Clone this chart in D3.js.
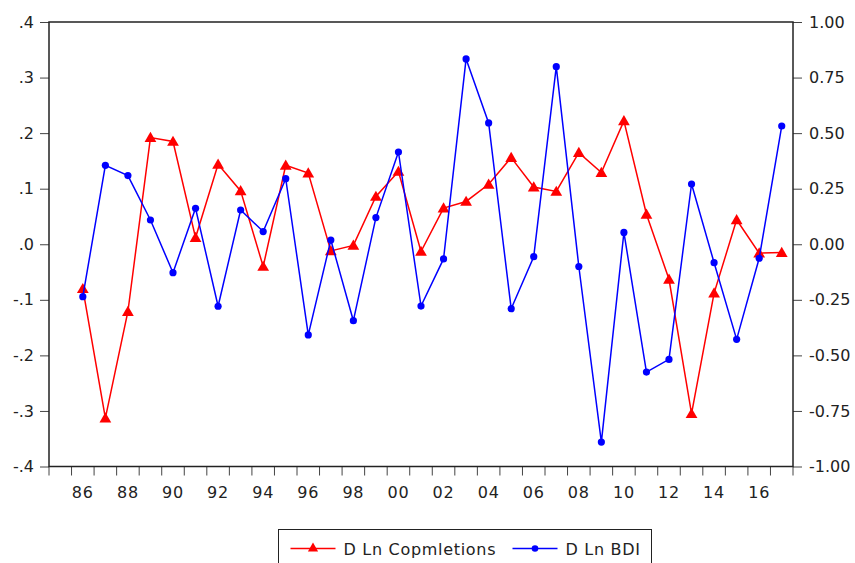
<!DOCTYPE html>
<html>
<head>
<meta charset="utf-8">
<script src="https://cdn.jsdelivr.net/npm/d3@7"></script>
<style>
  html, body { margin: 0; padding: 0; background: #fff; }
  svg { display: block; font-family: "DejaVu Sans", sans-serif; }
</style>
</head>
<body>
<div id="chart"></div>
<script>
"use strict";

/* ── Data (annual, differenced logs) ── */
const years = d3.range(1985, 2018);            // 1985 band is empty (lost to differencing)
const dataYears = d3.range(1986, 2018);
const completions = [
  -0.080, -0.313, -0.121, 0.192, 0.185, 0.012, 0.144, 0.096, -0.040, 0.142,
   0.128, -0.012, -0.002, 0.086, 0.131, -0.013, 0.065, 0.077, 0.108, 0.156,
   0.103, 0.095, 0.165, 0.129, 0.222, 0.054, -0.063, -0.305, -0.088, 0.044,
  -0.016, -0.015
];
const bdi = [
  -0.236, 0.355, 0.309, 0.109, -0.128, 0.162, -0.279, 0.154, 0.057, 0.295,
  -0.408, 0.019, -0.344, 0.120, 0.415, -0.278, -0.066, 0.834, 0.546, -0.290,
  -0.056, 0.799, -0.100, -0.890, 0.053, -0.575, -0.518, 0.271, -0.083, -0.428,
  -0.063, 0.532
];
const leftTicks  = [-0.4, -0.3, -0.2, -0.1, 0, 0.1, 0.2, 0.3, 0.4];
const rightTicks = [-1, -0.75, -0.5, -0.25, 0, 0.25, 0.5, 0.75, 1];
const labelYears = d3.range(1986, 2017, 2);

/* ── Dimensions ── */
const W = 855, H = 563;
const margin = { top: 22, right: 62, bottom: 96.5, left: 49 };
const width  = W - margin.left - margin.right;
const height = H - margin.top - margin.bottom;

const svg = d3.select("#chart").append("svg")
  .attr("width", W).attr("height", H);

const g = svg.append("g")
  .attr("transform", `translate(${margin.left},${margin.top})`);

/* ── Scales ── */
const x  = d3.scaleBand().domain(years).range([0, width]).padding(0);
const yL = d3.scaleLinear().domain([-0.4, 0.4]).range([height, 0]);
const yR = d3.scaleLinear().domain([-1, 1]).range([height, 0]);
const cx = yr => x(yr) + x.bandwidth() / 2;

// EViews style: ".4", "-.1", plain hyphen instead of unicode minus
const fmtLeft = v => {
  const s = d3.format(".1f")(Math.abs(v)).replace(/^0/, "");
  return (v < 0 ? "-" : "") + s;
};
const fmtRight = v => (v < 0 ? "-" : "") + d3.format(".2f")(Math.abs(v));

const styleText = a => a.selectAll(".tick text")
  .attr("fill", "#222").attr("font-size", "16px")
  .attr("font-family", "DejaVu Sans, sans-serif");

/* ── Axes ── */
g.append("g")
  .call(d3.axisLeft(yL).tickValues(leftTicks).tickFormat(fmtLeft).tickSize(9).tickPadding(6))
  .call(a => {
    a.select(".domain").remove();
    a.selectAll(".tick line").attr("stroke", "#444");
    styleText(a);
  });

g.append("g")
  .attr("transform", `translate(${width},0)`)
  .call(d3.axisRight(yR).tickValues(rightTicks).tickFormat(fmtRight).tickSize(9).tickPadding(7))
  .call(a => {
    a.select(".domain").remove();
    a.selectAll(".tick line").attr("stroke", "#444");
    styleText(a);
  });

/* bottom tick marks sit on band boundaries */
const boundaries = years.map(yr => x(yr)).concat([width]);
g.append("g").selectAll("line")
  .data(boundaries)
  .join("line")
  .attr("x1", d => d).attr("x2", d => d)
  .attr("y1", height).attr("y2", height + 9)
  .attr("stroke", "#444");

/* bottom labels at band centres, every other year */
g.append("g")
  .attr("transform", `translate(0,${height})`)
  .call(d3.axisBottom(x).tickValues(labelYears)
    .tickFormat(d => String(d).slice(2)).tickSize(0).tickPadding(20))
  .call(a => {
    a.select(".domain").remove();
    styleText(a);
    a.selectAll(".tick text").attr("letter-spacing", "0.8px");
  });

/* ── Frame ── */
g.append("rect")
  .attr("width", width).attr("height", height)
  .attr("fill", "none").attr("stroke", "#222").attr("stroke-width", 1.5);

/* ── Series ── */
const tri = d3.symbol().type(d3.symbolTriangle).size(60);

const redLine = d3.line().x((d, i) => cx(dataYears[i])).y(d => yL(d));
g.append("path").datum(completions)
  .attr("d", redLine)
  .attr("fill", "none").attr("stroke", "#ff0000").attr("stroke-width", 1.5);
g.append("g").selectAll("path")
  .data(completions)
  .join("path")
  .attr("d", tri)
  .attr("transform", (d, i) => `translate(${cx(dataYears[i])},${yL(d) + 1})`)
  .attr("fill", "#ff0000");

const blueLine = d3.line().x((d, i) => cx(dataYears[i])).y(d => yR(d));
g.append("path").datum(bdi)
  .attr("d", blueLine)
  .attr("fill", "none").attr("stroke", "#0000ff").attr("stroke-width", 1.5);
g.append("g").selectAll("circle")
  .data(bdi)
  .join("circle")
  .attr("cx", (d, i) => cx(dataYears[i]))
  .attr("cy", d => yR(d))
  .attr("r", 3.6)
  .attr("fill", "#0000ff");

/* ── Legend ── */
const legend = svg.append("g").attr("transform", "translate(278.5,529.5)");
legend.append("rect")
  .attr("width", 373).attr("height", 45)
  .attr("fill", "#fff").attr("stroke", "#222").attr("stroke-width", 1);

const items = [
  { label: "D Ln Copmletions", colour: "#ff0000", marker: "tri", x0: 12 },
  { label: "D Ln BDI",         colour: "#0000ff", marker: "dot", x0: 234 }
];
items.forEach(item => {
  const li = legend.append("g").attr("transform", `translate(${item.x0},19)`);
  li.append("line").attr("x1", 0).attr("x2", 45).attr("y1", 0).attr("y2", 0)
    .attr("stroke", item.colour).attr("stroke-width", 1.5);
  if (item.marker === "tri") {
    li.append("path").attr("d", d3.symbol().type(d3.symbolTriangle).size(45)())
      .attr("transform", "translate(22.5,0)").attr("fill", item.colour);
  } else {
    li.append("circle").attr("cx", 22.5).attr("cy", 0).attr("r", 3.3).attr("fill", item.colour);
  }
  li.append("text").attr("x", 53).attr("y", 6)
    .attr("font-size", "16px").attr("letter-spacing", "0.7px")
    .attr("fill", "#222").text(item.label);
});
</script>
</body>
</html>
